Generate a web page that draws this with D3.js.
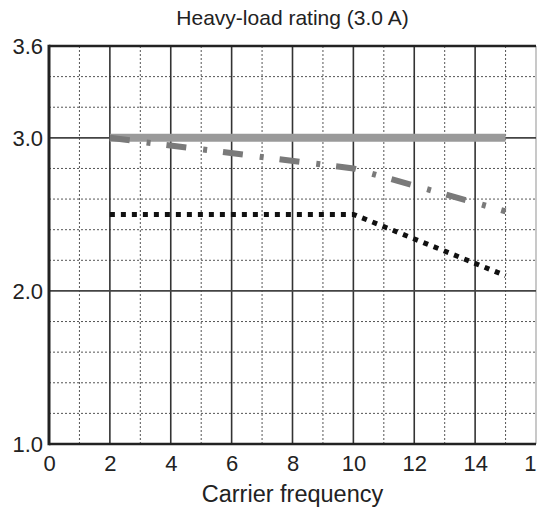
<!DOCTYPE html>
<html>
<head>
<meta charset="utf-8">
<script src="https://cdn.jsdelivr.net/npm/d3@7"></script>
<style>
  html, body { margin: 0; padding: 0; background: #fff; }
  svg { display: block; font-family: "Liberation Sans", Arial, sans-serif; }
</style>
</head>
<body>
<svg id="chart" width="537" height="511"></svg>
<script>
// ---- data ----
const title = "Heavy-load rating (3.0 A)";
const xLabel = "Carrier frequency";
const xTicks = [0, 2, 4, 6, 8, 10, 12, 14, 16];
const yTicks = [1.0, 2.0, 3.0, 3.6];
const xGridMinor = [1, 3, 5, 7, 9, 11, 13, 15];
const yGridMinor = [1.2, 1.4, 1.6, 1.8, 2.2, 2.4, 2.6, 2.8, 3.2, 3.4];
const yGridMajor = [2.0, 3.0];

const ratedX = [2, 15];
const ratedY = [3.0, 3.0];
const dashDotX = [2, 10, 15];
const dashDotY = [3.0, 2.8, 2.52];
const dottedX = [2, 10, 15];
const dottedY = [2.5, 2.5, 2.1];

// ---- layout ----
const svg = d3.select("#chart");
const pL = 49, pR = 536, pT = 46, pB = 444;
const x = d3.scaleLinear().domain([0, 16]).range([pL, pR]);
const y = d3.scaleLinear().domain([1.0, 3.6]).range([pB, pT]);

// minor grid (dotted)
svg.append("g").selectAll("line").data(xGridMinor).join("line")
  .attr("x1", d => x(d)).attr("x2", d => x(d))
  .attr("y1", pT).attr("y2", pB)
  .attr("stroke", "#555").attr("stroke-width", 1).attr("stroke-dasharray", "2,2");
svg.append("g").selectAll("line").data(yGridMinor).join("line")
  .attr("x1", pL).attr("x2", pR)
  .attr("y1", d => y(d)).attr("y2", d => y(d))
  .attr("stroke", "#555").attr("stroke-width", 1).attr("stroke-dasharray", "2,2");

// major grid (solid)
svg.append("g").selectAll("line").data(xTicks.filter(d => d > 0)).join("line")
  .attr("x1", d => x(d)).attr("x2", d => x(d))
  .attr("y1", pT).attr("y2", pB)
  .attr("stroke", d => d === 16 ? "#bbb" : "#333").attr("stroke-width", 1.6);
svg.append("g").selectAll("line").data(yGridMajor).join("line")
  .attr("x1", pL).attr("x2", pR)
  .attr("y1", d => y(d)).attr("y2", d => y(d))
  .attr("stroke", "#444").attr("stroke-width", 1.6);

// frame
svg.append("line").attr("x1", pL).attr("x2", pR).attr("y1", pT).attr("y2", pT)
  .attr("stroke", "#222").attr("stroke-width", 2.5);
svg.append("line").attr("x1", pL).attr("x2", pR).attr("y1", pB).attr("y2", pB)
  .attr("stroke", "#222").attr("stroke-width", 2.5);
svg.append("line").attr("x1", pL).attr("x2", pL).attr("y1", pT - 1.2).attr("y2", pB + 1.2)
  .attr("stroke", "#222").attr("stroke-width", 3);

// axes (labels only)
const xAxis = d3.axisBottom(x).tickValues(xTicks).tickSize(0).tickPadding(0).tickFormat(d3.format("d"));
const gx = svg.append("g").attr("transform", `translate(0,${pB + 11})`).call(xAxis);
gx.select(".domain").remove();
gx.selectAll("text").attr("font-size", 22).attr("fill", "#222")
  .attr("font-family", "Liberation Sans, Arial, sans-serif").attr("dy", "0.71em");

const yAxis = d3.axisLeft(y).tickValues(yTicks).tickSize(0).tickPadding(6).tickFormat(d3.format(".1f"));
const gy = svg.append("g").attr("transform", `translate(${pL},0)`).call(yAxis);
gy.select(".domain").remove();
gy.selectAll("text").attr("font-size", 22).attr("fill", "#222")
  .attr("font-family", "Liberation Sans, Arial, sans-serif").attr("dy", "0.33em");

// series
const line = d3.line().x(d => x(d[0])).y(d => y(d[1]));
svg.append("path").datum(ratedX.map((v, i) => [v, ratedY[i]]))
  .attr("d", line).attr("fill", "none").attr("stroke", "#9a9a9a").attr("stroke-width", 8);
svg.append("path").datum(dashDotX.map((v, i) => [v, dashDotY[i]]))
  .attr("d", line).attr("fill", "none").attr("stroke", "#7a7a7a").attr("stroke-width", 6)
  .attr("stroke-dasharray", "20,17,4,16");
svg.append("path").datum(dottedX.map((v, i) => [v, dottedY[i]]))
  .attr("d", line).attr("fill", "none").attr("stroke", "#111").attr("stroke-width", 5)
  .attr("stroke-dasharray", "5,6");

// titles
svg.append("text").attr("x", x(8)).attr("y", 25).attr("text-anchor", "middle")
  .attr("font-size", 21).attr("fill", "#222").text(title);
svg.append("text").attr("x", x(8)).attr("y", 502).attr("text-anchor", "middle")
  .attr("font-size", 23.5).attr("fill", "#222").text(xLabel);
</script>
</body>
</html>
